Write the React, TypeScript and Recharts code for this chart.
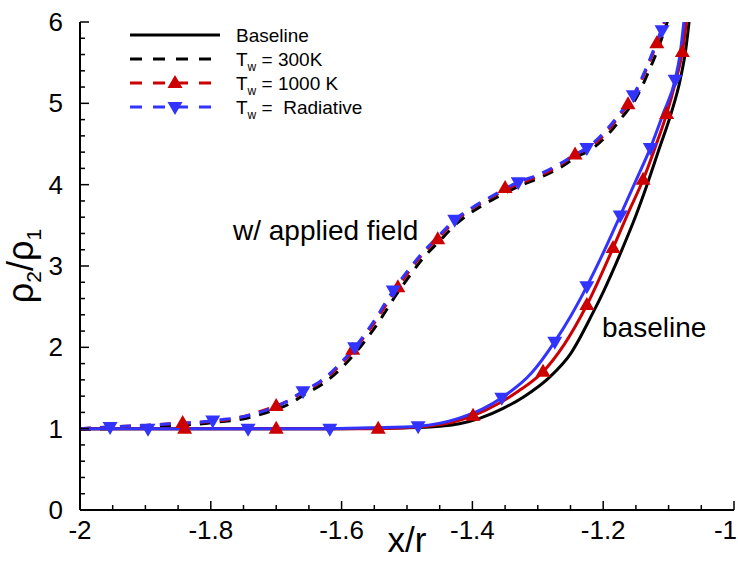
import React from 'react';
import { ComposedChart, Line, XAxis, YAxis } from 'recharts';

// ---------- data (x/r, rho2/rho1) ----------
const baseline300 = [
  { x: -2, y: 1.0 }, { x: -1.8, y: 1.0 }, { x: -1.6, y: 1.0 }, { x: -1.5, y: 1.01 },
  { x: -1.45, y: 1.03 }, { x: -1.42, y: 1.06 }, { x: -1.388, y: 1.13 }, { x: -1.353, y: 1.25 },
  { x: -1.32, y: 1.4 }, { x: -1.281, y: 1.64 }, { x: -1.25, y: 1.92 }, { x: -1.216, y: 2.42 },
  { x: -1.2, y: 2.68 }, { x: -1.174, y: 3.15 }, { x: -1.15, y: 3.62 }, { x: -1.132, y: 4.02 },
  { x: -1.114, y: 4.45 }, { x: -1.096, y: 4.88 }, { x: -1.082, y: 5.3 }, { x: -1.074, y: 5.65 },
  { x: -1.068, y: 6.05 },
];
const baseline1000 = [
  { x: -2, y: 1.0 }, { x: -1.84, y: 1.0 }, { x: -1.7, y: 1.0 }, { x: -1.544, y: 1.0 },
  { x: -1.47, y: 1.03 }, { x: -1.43, y: 1.08 }, { x: -1.399, y: 1.16 }, { x: -1.36, y: 1.31 },
  { x: -1.33, y: 1.46 }, { x: -1.292, y: 1.7 }, { x: -1.26, y: 2.03 }, { x: -1.225, y: 2.52 },
  { x: -1.185, y: 3.22 }, { x: -1.162, y: 3.65 }, { x: -1.139, y: 4.06 }, { x: -1.12, y: 4.47 },
  { x: -1.103, y: 4.87 }, { x: -1.089, y: 5.28 }, { x: -1.079, y: 5.63 }, { x: -1.072, y: 6.05 },
];
const baselineRad = [
  { x: -2, y: 1.0 }, { x: -1.896, y: 1.0 }, { x: -1.743, y: 1.0 }, { x: -1.618, y: 1.0 },
  { x: -1.55, y: 1.01 }, { x: -1.483, y: 1.03 }, { x: -1.42, y: 1.13 }, { x: -1.385, y: 1.24 },
  { x: -1.355, y: 1.38 }, { x: -1.31, y: 1.68 }, { x: -1.274, y: 2.07 }, { x: -1.25, y: 2.38 },
  { x: -1.225, y: 2.75 }, { x: -1.2, y: 3.16 }, { x: -1.174, y: 3.62 }, { x: -1.15, y: 4.05 },
  { x: -1.128, y: 4.45 }, { x: -1.108, y: 4.88 }, { x: -1.09, y: 5.29 }, { x: -1.082, y: 5.63 },
  { x: -1.076, y: 6.05 },
];
const field300 = [
  { x: -2, y: 0.99 }, { x: -1.95, y: 1.0 }, { x: -1.896, y: 1.02 }, { x: -1.858, y: 1.04 },
  { x: -1.813, y: 1.06 }, { x: -1.793, y: 1.08 }, { x: -1.751, y: 1.12 }, { x: -1.71, y: 1.21 },
  { x: -1.681, y: 1.3 }, { x: -1.655, y: 1.43 }, { x: -1.629, y: 1.55 }, { x: -1.596, y: 1.78 },
  { x: -1.576, y: 1.96 }, { x: -1.546, y: 2.28 }, { x: -1.517, y: 2.64 }, { x: -1.496, y: 2.88 },
  { x: -1.476, y: 3.09 }, { x: -1.45, y: 3.31 }, { x: -1.423, y: 3.53 }, { x: -1.396, y: 3.69 },
  { x: -1.366, y: 3.83 }, { x: -1.326, y: 3.99 }, { x: -1.296, y: 4.09 }, { x: -1.266, y: 4.21 },
  { x: -1.239, y: 4.35 }, { x: -1.221, y: 4.42 }, { x: -1.196, y: 4.59 }, { x: -1.17, y: 4.84 },
  { x: -1.15, y: 5.06 }, { x: -1.131, y: 5.38 }, { x: -1.114, y: 5.72 }, { x: -1.1, y: 6.05 },
];
const field1000 = [
  { x: -2, y: 1.0 }, { x: -1.954, y: 1.02 }, { x: -1.9, y: 1.04 }, { x: -1.862, y: 1.06 },
  { x: -1.817, y: 1.08 }, { x: -1.797, y: 1.09 }, { x: -1.755, y: 1.14 }, { x: -1.714, y: 1.24 },
  { x: -1.685, y: 1.33 }, { x: -1.659, y: 1.45 }, { x: -1.633, y: 1.57 }, { x: -1.6, y: 1.8 },
  { x: -1.58, y: 1.98 }, { x: -1.55, y: 2.3 }, { x: -1.521, y: 2.66 }, { x: -1.5, y: 2.9 },
  { x: -1.48, y: 3.11 }, { x: -1.454, y: 3.33 }, { x: -1.427, y: 3.55 }, { x: -1.4, y: 3.71 },
  { x: -1.37, y: 3.85 }, { x: -1.33, y: 4.01 }, { x: -1.3, y: 4.1 }, { x: -1.27, y: 4.22 },
  { x: -1.243, y: 4.37 }, { x: -1.225, y: 4.44 }, { x: -1.2, y: 4.6 }, { x: -1.174, y: 4.86 },
  { x: -1.154, y: 5.08 }, { x: -1.135, y: 5.4 }, { x: -1.118, y: 5.74 }, { x: -1.104, y: 6.05 },
];
const fieldRad = [
  { x: -2, y: 1.0 }, { x: -1.954, y: 1.02 }, { x: -1.9, y: 1.04 }, { x: -1.862, y: 1.06 },
  { x: -1.817, y: 1.08 }, { x: -1.797, y: 1.1 }, { x: -1.755, y: 1.14 }, { x: -1.714, y: 1.23 },
  { x: -1.685, y: 1.33 }, { x: -1.659, y: 1.46 }, { x: -1.633, y: 1.58 }, { x: -1.6, y: 1.82 },
  { x: -1.58, y: 2.0 }, { x: -1.55, y: 2.33 }, { x: -1.521, y: 2.7 }, { x: -1.5, y: 2.93 },
  { x: -1.48, y: 3.13 }, { x: -1.454, y: 3.35 }, { x: -1.427, y: 3.57 }, { x: -1.4, y: 3.72 },
  { x: -1.37, y: 3.86 }, { x: -1.33, y: 4.03 }, { x: -1.3, y: 4.12 }, { x: -1.27, y: 4.24 },
  { x: -1.243, y: 4.37 }, { x: -1.225, y: 4.45 }, { x: -1.2, y: 4.63 }, { x: -1.174, y: 4.88 },
  { x: -1.154, y: 5.1 }, { x: -1.135, y: 5.42 }, { x: -1.118, y: 5.76 }, { x: -1.104, y: 6.05 },
];

// marker positions
const baseline1000Marks = [
  { x: -1.84, y: 1.0 }, { x: -1.7, y: 1.0 }, { x: -1.544, y: 1.0 }, { x: -1.399, y: 1.16 },
  { x: -1.292, y: 1.7 }, { x: -1.225, y: 2.52 }, { x: -1.185, y: 3.22 }, { x: -1.139, y: 4.06 },
  { x: -1.103, y: 4.87 }, { x: -1.079, y: 5.63 },
];
const baselineRadMarks = [
  { x: -1.896, y: 1.0 }, { x: -1.743, y: 1.0 }, { x: -1.618, y: 1.0 }, { x: -1.483, y: 1.03 },
  { x: -1.355, y: 1.38 }, { x: -1.274, y: 2.07 }, { x: -1.225, y: 2.75 }, { x: -1.174, y: 3.62 },
  { x: -1.128, y: 4.45 }, { x: -1.09, y: 5.29 },
];
const field1000Marks = [
  { x: -1.843, y: 1.07 }, { x: -1.7, y: 1.28 }, { x: -1.583, y: 1.97 }, { x: -1.514, y: 2.74 },
  { x: -1.453, y: 3.33 }, { x: -1.35, y: 3.96 }, { x: -1.243, y: 4.37 }, { x: -1.162, y: 4.99 },
  { x: -1.118, y: 5.74 },
];
const fieldRadMarks = [
  { x: -1.954, y: 1.02 }, { x: -1.797, y: 1.1 }, { x: -1.659, y: 1.46 }, { x: -1.58, y: 2.0 },
  { x: -1.521, y: 2.7 }, { x: -1.427, y: 3.57 }, { x: -1.33, y: 4.03 }, { x: -1.225, y: 4.45 },
  { x: -1.154, y: 5.1 }, { x: -1.11, y: 5.9 },
];

const xMajorTicks = [-2, -1.8, -1.6, -1.4, -1.2, -1];
const yMajorTicks = [0, 1, 2, 3, 4, 5, 6];
const legendLabels = ['Baseline', '300K', '1000 K', ' Radiative'];

// ---------- helpers ----------
const RED = '#cc0000';
const BLUE = '#3333ff';
const FONT = '"Liberation Sans", Arial, Helvetica, sans-serif';

const withMinor = (majors: number[], n: number) => {
  const out: number[] = [];
  for (let i = 0; i < majors.length; i++) {
    out.push(majors[i]);
    if (i < majors.length - 1) {
      const step = (majors[i + 1] - majors[i]) / (n + 1);
      for (let k = 1; k <= n; k++) out.push(Number((majors[i] + k * step).toFixed(4)));
    }
  }
  return out;
};
const xTicks = withMinor(xMajorTicks, 3);
const yTicks = withMinor(yMajorTicks, 4);
const isMajor = (v: number, list: number[]) => list.some((m) => Math.abs(m - v) < 1e-6);

const XTick = (props: any) => {
  const { x, y, payload } = props;
  const major = isMajor(payload.value, xMajorTicks);
  const last = Math.abs(payload.value - xMajorTicks[xMajorTicks.length - 1]) < 1e-6;
  return (
    <g>
      <line x1={x} y1={y} x2={x} y2={y - (major ? 9 : 5)} stroke="#000" strokeWidth={1.5} />
      {major && (
        <text
          x={last ? x + 3 : x}
          y={y + 29}
          textAnchor={last ? 'end' : 'middle'}
          fontSize={26}
          fontFamily={FONT}
          fill="#000"
        >
          {String(payload.value)}
        </text>
      )}
    </g>
  );
};
const YTick = (props: any) => {
  const { x, y, payload } = props;
  const major = isMajor(payload.value, yMajorTicks);
  return (
    <g>
      <line x1={x} y1={y} x2={x + (major ? 9 : 5)} y2={y} stroke="#000" strokeWidth={1.5} />
      {major && (
        <text x={x - 17} y={y + 9} textAnchor="end" fontSize={26} fontFamily={FONT} fill="#000">
          {String(payload.value)}
        </text>
      )}
    </g>
  );
};

const upTri = (cx: number, cy: number) =>
  `${cx},${cy - 8} ${cx - 7.5},${cy + 5} ${cx + 7.5},${cy + 5}`;
const downTri = (cx: number, cy: number) =>
  `${cx},${cy + 8} ${cx - 7.5},${cy - 5} ${cx + 7.5},${cy - 5}`;

const UpDot = (color: string) => (p: any) =>
  <polygon key={`u${p.index}`} points={upTri(p.cx, p.cy)} fill={color} />;
const DownDot = (color: string) => (p: any) =>
  <polygon key={`d${p.index}`} points={downTri(p.cx, p.cy)} fill={color} />;

const DASH = '11 9';

const LegendBlock = () => {
  const rows = [35, 59, 83, 107];
  const lx1 = 130;
  const lx2 = 220;
  const tx = 236;
  return (
    <g fontFamily={FONT} fill="#000">
      <line x1={lx1} y1={rows[0]} x2={lx2} y2={rows[0]} stroke="#000" strokeWidth={3} />
      <line x1={lx1} y1={rows[1]} x2={lx2} y2={rows[1]} stroke="#000" strokeWidth={3} strokeDasharray="12 11" />
      <line x1={lx1} y1={rows[2]} x2={lx2} y2={rows[2]} stroke={RED} strokeWidth={3} strokeDasharray="12 11" />
      <polygon points={upTri(175, rows[2])} fill={RED} />
      <line x1={lx1} y1={rows[3]} x2={lx2} y2={rows[3]} stroke={BLUE} strokeWidth={3} strokeDasharray="12 11" />
      <polygon points={downTri(175, rows[3])} fill={BLUE} />
      <text x={tx} y={rows[0] + 7} fontSize={19}>{legendLabels[0]}</text>
      {[1, 2, 3].map((i) => (
        <text key={i} x={tx} y={rows[i] + 7} fontSize={19} style={{ whiteSpace: 'pre' }}>
          T<tspan fontSize={12} dy={5}>w</tspan>
          <tspan dy={-5}>{' = ' + legendLabels[i]}</tspan>
        </text>
      ))}
    </g>
  );
};

const Annotations = () => (
  <g fontFamily={FONT} fill="#000">
    <text transform="translate(33,266) rotate(-90)" textAnchor="middle" fontSize={36}>
      ρ<tspan fontSize={21} dy={8}>2</tspan>
      <tspan dy={-8}>/ρ</tspan>
      <tspan fontSize={21} dy={8}>1</tspan>
    </text>
    <text x={407} y={552} textAnchor="middle" fontSize={35}>x/r</text>
    <text x={233} y={240} fontSize={28}>w/ applied field</text>
    <text x={602} y={337} fontSize={28}>baseline</text>
    <LegendBlock />
  </g>
);

export default function App() {
  return (
    <div style={{ position: 'absolute', left: 0, top: 0, width: 738, height: 561, background: '#fff' }}>
      <ComposedChart width={738} height={561} margin={{ top: 22, right: 4, left: 0, bottom: 0 }}>
        <XAxis
          dataKey="x"
          type="number"
          domain={[-2, -1]}
          ticks={xTicks}
          interval={0}
          allowDataOverflow
          height={51}
          tickSize={0}
          tickMargin={0}
          tickLine={false}
          axisLine={{ stroke: '#000', strokeWidth: 2 }}
          tick={<XTick />}
        />
        <YAxis
          dataKey="y"
          type="number"
          domain={[0, 6]}
          ticks={yTicks}
          interval={0}
          allowDataOverflow
          width={80}
          tickSize={0}
          tickMargin={0}
          tickLine={false}
          axisLine={{ stroke: '#000', strokeWidth: 2 }}
          tick={<YTick />}
        />
        <Line data={field300} dataKey="y" type="monotone" stroke="#000" strokeWidth={3} strokeDasharray={DASH} dot={false} isAnimationActive={false} />
        <Line data={field1000} dataKey="y" type="monotone" stroke={RED} strokeWidth={3} strokeDasharray={DASH} dot={false} isAnimationActive={false} />
        <Line data={field1000Marks} dataKey="y" stroke="none" dot={UpDot(RED)} activeDot={false} isAnimationActive={false} />
        <Line data={fieldRad} dataKey="y" type="monotone" stroke={BLUE} strokeWidth={3} strokeDasharray={DASH} dot={false} isAnimationActive={false} />
        <Line data={fieldRadMarks} dataKey="y" stroke="none" dot={DownDot(BLUE)} activeDot={false} isAnimationActive={false} />
        <Line data={baseline300} dataKey="y" type="monotone" stroke="#000" strokeWidth={3} dot={false} isAnimationActive={false} />
        <Line data={baseline1000} dataKey="y" type="monotone" stroke={RED} strokeWidth={3} dot={false} isAnimationActive={false} />
        <Line data={baseline1000Marks} dataKey="y" stroke="none" dot={UpDot(RED)} activeDot={false} isAnimationActive={false} />
        <Line data={baselineRad} dataKey="y" type="monotone" stroke={BLUE} strokeWidth={3} dot={false} isAnimationActive={false} />
        <Line data={baselineRadMarks} dataKey="y" stroke="none" dot={DownDot(BLUE)} activeDot={false} isAnimationActive={false} />
        <Annotations />
      </ComposedChart>
    </div>
  );
}
